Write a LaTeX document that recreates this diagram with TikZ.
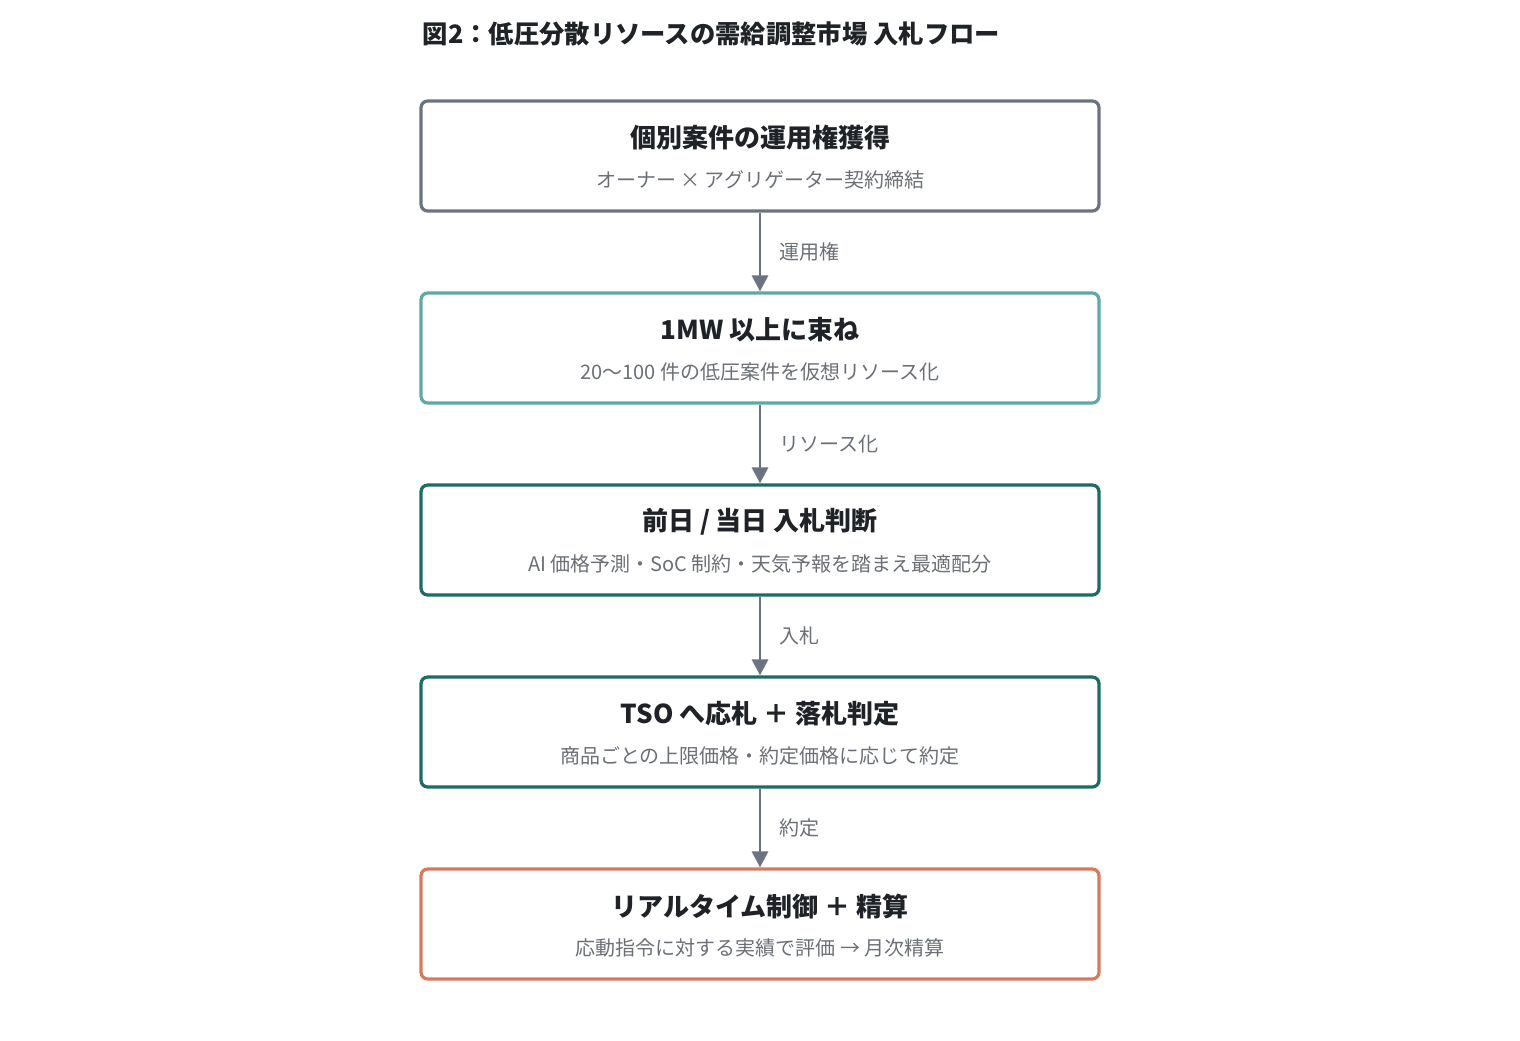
\documentclass[tikz,border=0pt]{standalone}
\usepackage{fontspec}
\setmainfont{Noto Sans CJK JP}
\usetikzlibrary{arrows.meta}
\definecolor{cgray}{HTML}{6B7280}
\definecolor{clteal}{HTML}{5FA8A8}
\definecolor{cdteal}{HTML}{1B6B66}
\definecolor{corange}{HTML}{D9785A}
\definecolor{ctext}{HTML}{1F2328}
\definecolor{csub}{HTML}{6B6F76}
\tikzset{
 stepbox/.style={draw=#1,line width=2.4pt,rounded corners=5pt,minimum width=678*0.75pt,minimum height=110*0.75pt,fill=white},
 ttl/.style={font=\bfseries\fontsize{19.5pt}{22pt}\selectfont,text=ctext},
 sub/.style={font=\fontsize{15pt}{18pt}\selectfont,text=csub},
 arr/.style={draw=cgray,line width=2.2pt,-{Triangle[length=12pt,width=12pt]}},
 lbl/.style={font=\fontsize{15pt}{18pt}\selectfont,text=csub,anchor=west}
}
\begin{document}
\begin{tikzpicture}[x=0.75pt,y=-0.75pt]
\useasboundingbox (0,0) rectangle (1520,1040);
\node[anchor=west,font=\bfseries\fontsize{19pt}{22pt}\selectfont,text=ctext] (title) at (418,34) {図2：低圧分散リソースの需給調整市場 入札フロー};
\node[stepbox=cgray] (b1) at (760,156) {};
\node[stepbox=clteal] (b2) at (760,348) {};
\node[stepbox=cdteal] (b3) at (760,540) {};
\node[stepbox=cdteal] (b4) at (760,732) {};
\node[stepbox=corange] (b5) at (760,924) {};
\node[ttl] (t1) at (760,138) {個別案件の運用権獲得};
\node[sub] (s1) at (760,180) {オーナー × アグリゲーター契約締結};
\node[ttl] (t2) at (760,330) {1MW 以上に束ね};
\node[sub] (s2) at (760,372) {20〜100 件の低圧案件を仮想リソース化};
\node[ttl] (t3) at (760,522) {前日 / 当日 入札判断};
\node[sub] (s3) at (760,564) {AI 価格予測・SoC 制約・天気予報を踏まえ最適配分};
\node[ttl] (t4) at (760,714) {TSO へ応札 ＋ 落札判定};
\node[sub] (s4) at (760,756) {商品ごとの上限価格・約定価格に応じて約定};
\node[ttl] (t5) at (760,906) {リアルタイム制御 ＋ 精算};
\node[sub] (s5) at (760,948) {応動指令に対する実績で評価 → 月次精算};
\draw[arr] (b1.south) -- (b2.north) node[midway,lbl,xshift=10pt] (l1) {運用権};
\draw[arr] (b2.south) -- (b3.north) node[midway,lbl,xshift=10pt] (l2) {リソース化};
\draw[arr] (b3.south) -- (b4.north) node[midway,lbl,xshift=10pt] (l3) {入札};
\draw[arr] (b4.south) -- (b5.north) node[midway,lbl,xshift=10pt] (l4) {約定};
\end{tikzpicture}
\end{document}
